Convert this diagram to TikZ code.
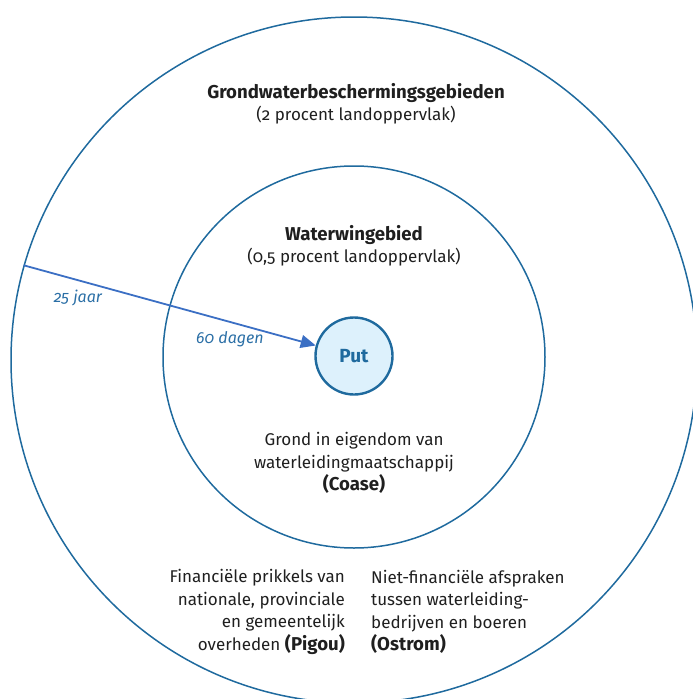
\documentclass[tikz,border=0pt]{standalone}
\usepackage{fontspec}
\setmainfont{Fira Sans}[Numbers=OldStyle]
\usetikzlibrary{arrows.meta}
\definecolor{ringblue}{HTML}{1F6A9E}
\definecolor{arrowblue}{HTML}{3B6FC4}
\definecolor{putfill}{HTML}{DDF1FC}
\definecolor{labelblue}{HTML}{2B6FA6}
\newcommand{\hb}[1]{{\fontsize{18.6}{22.5}\selectfont\bfseries #1}}

\begin{document}
\begin{tikzpicture} [
    x=1pt, y=-1pt,
    ring/.style = {circle, draw=ringblue, line width=1.5pt, inner sep=0pt},
    txt/.style = {font=\fontsize{17}{22.5}\selectfont, text=black!88, inner sep=0pt},
    timelabel/.style = {font=\fontsize{16}{20}\selectfont\itshape, text=labelblue, inner sep=0pt},
    flow/.style = {-{Triangle[length=15pt, width=13pt]}, draw=arrowblue, line width=1.8pt}]
    \useasboundingbox (0,0) rectangle (693,699);

    \node (outer) [ring, minimum size=686pt] at (354,360) {};
    \node (inner) [ring, minimum size=382pt] at (354,357) {};
    \node (put) [ring, line width=2.4pt, fill=putfill, minimum size=77pt,
        font=\fontsize{19}{20}\selectfont\bfseries, text=ringblue] at (354,356) {Put};

    \node (gwb) [txt, align=center] at (356,104)
        {\hb{Grondwaterbeschermingsgebieden}\\(2 procent landoppervlak)};
    \node (wwg) [txt, align=center] at (354,246)
        {\hb{Waterwingebied}\\(0,5 procent landoppervlak)};
    \node (coase) [txt, align=center] at (354,463)
        {Grond in eigendom van\\waterleidingmaatschappij\\\hb{(Coase)}};
    \node (pigou) [txt, align=right, anchor=east] at (345,612)
        {Financiële prikkels van\\nationale, provinciale\\en gemeentelijk\\overheden \hb{(Pigou)}};
    \node (ostrom) [txt, align=left, anchor=west] at (371,612)
        {Niet-financiële afspraken\\tussen waterleiding-\\bedrijven en boeren\\\hb{(Ostrom)}};

    \coordinate (start) at (outer.164);
    \node (jaar) [timelabel] at (78,298) {25 jaar};
    \node (dagen) [timelabel] at (230,339) {60 dagen};

    \draw [flow] (start) -- (put);
\end{tikzpicture}
\end{document}
